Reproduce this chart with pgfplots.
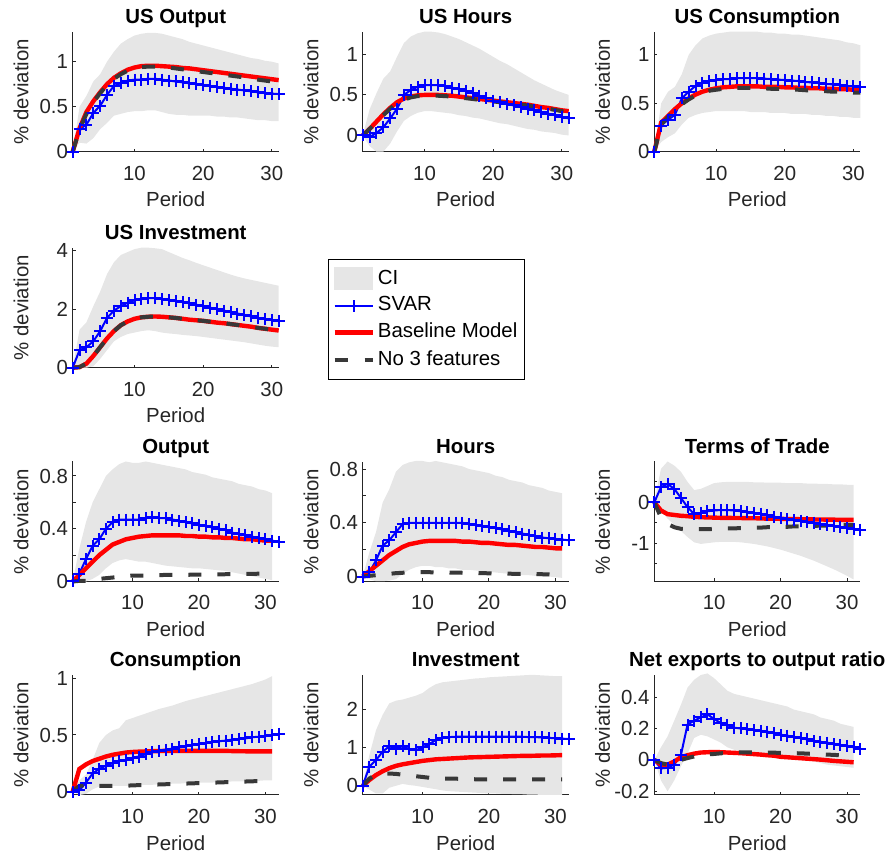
\documentclass[border=0pt]{standalone}
\usepackage{fontspec}
\setmainfont{Liberation Sans}
\usepackage{pgfplots}
\pgfplotsset{compat=1.18}
\usepackage{pgfplotstable}
\usepgfplotslibrary{fillbetween}
\definecolor{cigray}{RGB}{230,230,230}
\definecolor{axgray}{RGB}{38,38,38}
\definecolor{nogray}{RGB}{56,56,56}
\newcommand{\figfont}{\fontsize{10.2}{12}\selectfont}

% US Output
\pgfplotstableread{
x ciL ciU svar base no3
1 0 0 0 0 0
2 0.10 0.50 0.25 0.26 0.25
3 0.09 0.62 0.30 0.44 0.42
4 0.15 0.78 0.43 0.56 0.55
5 0.25 0.86 0.51 0.66 0.65
6 0.32 1.00 0.63 0.75 0.74
7 0.40 1.11 0.73 0.82 0.81
8 0.42 1.20 0.76 0.87 0.86
9 0.44 1.25 0.79 0.91 0.90
10 0.45 1.29 0.80 0.935 0.925
11 0.45 1.31 0.80 0.95 0.94
12 0.46 1.32 0.81 0.955 0.945
13 0.46 1.32 0.81 0.955 0.945
14 0.44 1.31 0.80 0.95 0.94
15 0.42 1.29 0.79 0.945 0.935
16 0.41 1.27 0.78 0.94 0.925
17 0.41 1.25 0.77 0.93 0.915
18 0.40 1.22 0.76 0.925 0.905
19 0.40 1.20 0.75 0.915 0.895
20 0.40 1.18 0.74 0.905 0.885
21 0.40 1.16 0.73 0.895 0.875
22 0.39 1.14 0.72 0.885 0.865
23 0.39 1.12 0.71 0.875 0.855
24 0.38 1.10 0.70 0.865 0.845
25 0.38 1.08 0.69 0.855 0.835
26 0.37 1.06 0.68 0.845 0.825
27 0.36 1.04 0.67 0.835 0.815
28 0.35 1.03 0.66 0.825 0.80
29 0.35 1.01 0.65 0.815 0.79
30 0.34 1.00 0.645 0.805 0.78
31 0.34 0.98 0.64 0.795 0.77
}\TA

% US Hours
\pgfplotstableread{
x ciL ciU svar base no3
1 0 0 0 0 0
2 -0.13 0.32 -0.02 0.08 0.08
3 -0.20 0.52 0.03 0.17 0.16
4 -0.20 0.70 0.10 0.26 0.25
5 -0.10 0.79 0.21 0.34 0.33
6 0.05 0.97 0.33 0.41 0.40
7 0.18 1.14 0.50 0.455 0.44
8 0.24 1.22 0.56 0.48 0.47
9 0.28 1.26 0.60 0.495 0.485
10 0.30 1.28 0.62 0.50 0.49
11 0.30 1.28 0.62 0.50 0.49
12 0.29 1.27 0.62 0.50 0.49
13 0.28 1.25 0.61 0.495 0.485
14 0.27 1.22 0.59 0.49 0.48
15 0.25 1.19 0.57 0.48 0.47
16 0.24 1.15 0.55 0.47 0.46
17 0.22 1.11 0.52 0.46 0.45
18 0.21 1.07 0.49 0.45 0.44
19 0.19 1.02 0.46 0.44 0.43
20 0.17 0.97 0.43 0.43 0.42
21 0.15 0.92 0.41 0.42 0.41
22 0.14 0.88 0.39 0.41 0.40
23 0.12 0.83 0.37 0.40 0.39
24 0.10 0.78 0.35 0.39 0.38
25 0.08 0.73 0.33 0.38 0.37
26 0.07 0.68 0.31 0.365 0.355
27 0.05 0.64 0.29 0.35 0.34
28 0.04 0.60 0.27 0.34 0.33
29 0.03 0.56 0.25 0.325 0.315
30 0.01 0.53 0.23 0.31 0.30
31 0.00 0.50 0.21 0.30 0.29
}\TB

% US Consumption
\pgfplotstableread{
x ciL ciU svar base no3
1 0 0 0 0 0
2 0.10 0.50 0.27 0.30 0.28
3 0.15 0.62 0.33 0.37 0.36
4 0.19 0.67 0.38 0.44 0.43
5 0.28 0.80 0.55 0.50 0.49
6 0.35 1.00 0.62 0.55 0.54
7 0.38 1.10 0.68 0.59 0.58
8 0.40 1.17 0.71 0.62 0.61
9 0.41 1.20 0.73 0.64 0.63
10 0.42 1.22 0.74 0.655 0.64
11 0.42 1.23 0.75 0.665 0.65
12 0.42 1.24 0.75 0.67 0.655
13 0.42 1.24 0.76 0.675 0.66
14 0.42 1.24 0.76 0.675 0.66
15 0.41 1.24 0.76 0.675 0.66
16 0.41 1.24 0.76 0.675 0.655
17 0.41 1.23 0.755 0.67 0.655
18 0.40 1.23 0.75 0.67 0.65
19 0.40 1.22 0.745 0.67 0.65
20 0.40 1.22 0.74 0.665 0.645
21 0.39 1.21 0.735 0.665 0.64
22 0.39 1.21 0.73 0.66 0.64
23 0.39 1.20 0.72 0.66 0.635
24 0.38 1.19 0.715 0.655 0.63
25 0.38 1.18 0.71 0.655 0.63
26 0.37 1.17 0.70 0.65 0.625
27 0.37 1.16 0.695 0.65 0.62
28 0.36 1.15 0.69 0.645 0.62
29 0.36 1.13 0.68 0.645 0.615
30 0.35 1.12 0.675 0.64 0.61
31 0.35 1.10 0.67 0.64 0.61
}\TC

% US Investment
\pgfplotstableread{
x ciL ciU svar base no3
1 0 0 0 0 0
2 0.00 1.30 0.60 0.02 0.02
3 0.00 1.55 0.70 0.14 0.14
4 0.05 2.10 0.90 0.40 0.40
5 0.30 2.60 1.25 0.70 0.70
6 0.60 3.20 1.70 1.00 1.00
7 0.90 3.60 1.95 1.25 1.25
8 1.05 3.85 2.10 1.45 1.45
9 1.15 3.95 2.22 1.58 1.58
10 1.20 4.05 2.30 1.67 1.67
11 1.25 4.10 2.35 1.72 1.72
12 1.28 4.10 2.38 1.74 1.74
13 1.25 4.08 2.38 1.75 1.75
14 1.20 4.05 2.35 1.74 1.74
15 1.17 3.95 2.32 1.72 1.72
16 1.15 3.85 2.28 1.70 1.70
17 1.12 3.75 2.25 1.67 1.67
18 1.10 3.67 2.20 1.64 1.64
19 1.08 3.58 2.15 1.62 1.62
20 1.05 3.50 2.10 1.60 1.60
21 1.02 3.42 2.05 1.57 1.57
22 0.99 3.34 2.00 1.54 1.54
23 0.96 3.26 1.95 1.52 1.52
24 0.93 3.18 1.90 1.49 1.49
25 0.90 3.11 1.85 1.46 1.46
26 0.87 3.05 1.80 1.43 1.43
27 0.83 3.00 1.75 1.40 1.40
28 0.79 2.95 1.70 1.36 1.36
29 0.75 2.90 1.66 1.33 1.33
30 0.72 2.85 1.63 1.30 1.30
31 0.70 2.80 1.60 1.27 1.27
}\TD

% Output
\pgfplotstableread{
x ciL ciU svar base no3
1 0 0 0 0 0
2 -0.01 0.25 0.06 0.05 0.005
3 0.00 0.45 0.17 0.10 0.005
4 0.02 0.60 0.27 0.15 0.01
5 0.05 0.70 0.32 0.20 0.02
6 0.10 0.80 0.40 0.24 0.025
7 0.14 0.85 0.45 0.28 0.03
8 0.16 0.89 0.47 0.30 0.035
9 0.17 0.91 0.47 0.32 0.04
10 0.16 0.90 0.47 0.33 0.045
11 0.15 0.90 0.47 0.34 0.045
12 0.15 0.91 0.48 0.345 0.045
13 0.14 0.90 0.49 0.35 0.048
14 0.13 0.89 0.48 0.35 0.048
15 0.12 0.88 0.48 0.35 0.05
16 0.115 0.87 0.47 0.35 0.05
17 0.11 0.86 0.46 0.35 0.05
18 0.105 0.85 0.45 0.345 0.05
19 0.10 0.83 0.44 0.345 0.052
20 0.10 0.82 0.43 0.34 0.052
21 0.095 0.81 0.42 0.34 0.052
22 0.09 0.79 0.41 0.335 0.053
23 0.085 0.78 0.40 0.335 0.054
24 0.08 0.77 0.39 0.33 0.055
25 0.07 0.76 0.37 0.33 0.055
26 0.06 0.74 0.36 0.325 0.056
27 0.05 0.73 0.35 0.32 0.057
28 0.04 0.72 0.34 0.32 0.058
29 0.03 0.70 0.33 0.315 0.059
30 0.02 0.69 0.32 0.31 0.06
31 0.01 0.67 0.31 0.31 0.06
32 nan nan 0.30 nan nan
}\TE

% Hours
\pgfplotstableread{
x ciL ciU svar base no3
1 0 0 0 0 0
2 -0.02 0.18 0.03 0.04 0.005
3 -0.035 0.33 0.12 0.08 0.01
4 -0.035 0.55 0.23 0.12 0.015
5 -0.03 0.65 0.27 0.16 0.02
6 -0.02 0.78 0.33 0.19 0.025
7 0.02 0.83 0.39 0.22 0.028
8 0.05 0.85 0.40 0.24 0.03
9 0.07 0.86 0.40 0.25 0.032
10 0.08 0.86 0.40 0.26 0.032
11 0.08 0.85 0.40 0.265 0.032
12 0.07 0.86 0.40 0.265 0.031
13 0.07 0.85 0.40 0.265 0.03
14 0.06 0.84 0.40 0.265 0.03
15 0.06 0.83 0.40 0.265 0.029
16 0.05 0.82 0.40 0.26 0.028
17 0.05 0.80 0.39 0.26 0.027
18 0.045 0.79 0.385 0.255 0.026
19 0.04 0.78 0.375 0.25 0.025
20 0.035 0.77 0.37 0.25 0.024
21 0.03 0.75 0.36 0.245 0.023
22 0.025 0.74 0.35 0.24 0.022
23 0.02 0.72 0.34 0.235 0.021
24 0.015 0.71 0.33 0.235 0.02
25 0.01 0.70 0.32 0.23 0.02
26 0.01 0.68 0.31 0.225 0.019
27 0.005 0.67 0.30 0.22 0.018
28 0.00 0.66 0.29 0.22 0.017
29 0.00 0.64 0.285 0.215 0.016
30 -0.005 0.63 0.28 0.21 0.015
31 -0.01 0.62 0.275 0.21 0.015
32 nan nan 0.27 nan nan
}\TF

% Terms of Trade
\pgfplotstableread{
x ciL ciU svar base no3
1 0 0 0 0 0
2 -0.20 0.82 0.37 -0.20 -0.37
3 -0.40 1.00 0.45 -0.29 -0.53
4 -0.55 0.90 0.33 -0.31 -0.61
5 -0.70 0.75 0.11 -0.33 -0.65
6 -0.85 0.50 -0.12 -0.34 -0.66
7 -0.98 0.30 -0.29 -0.355 -0.66
8 -1.02 0.33 -0.26 -0.365 -0.66
9 -1.00 0.40 -0.22 -0.37 -0.66
10 -0.98 0.47 -0.20 -0.375 -0.65
11 -0.97 0.49 -0.19 -0.38 -0.65
12 -0.97 0.50 -0.19 -0.38 -0.64
13 -0.97 0.50 -0.20 -0.385 -0.64
14 -0.98 0.50 -0.22 -0.385 -0.63
15 -1.00 0.50 -0.24 -0.39 -0.63
16 -1.02 0.49 -0.26 -0.39 -0.62
17 -1.05 0.49 -0.28 -0.395 -0.62
18 -1.08 0.48 -0.31 -0.40 -0.61
19 -1.12 0.48 -0.35 -0.40 -0.61
20 -1.16 0.48 -0.39 -0.405 -0.60
21 -1.21 0.47 -0.41 -0.41 -0.60
22 -1.26 0.47 -0.43 -0.41 -0.59
23 -1.31 0.47 -0.45 -0.415 -0.59
24 -1.37 0.46 -0.48 -0.415 -0.58
25 -1.43 0.46 -0.50 -0.42 -0.58
26 -1.50 0.45 -0.53 -0.42 -0.57
27 -1.57 0.45 -0.56 -0.425 -0.57
28 -1.64 0.44 -0.58 -0.425 -0.56
29 -1.72 0.44 -0.61 -0.43 -0.56
30 -1.80 0.43 -0.63 -0.43 -0.55
31 -1.89 0.43 -0.65 -0.43 -0.55
32 nan nan -0.67 nan nan
}\TG

% Consumption
\pgfplotstableread{
x ciL ciU svar base no3
1 0 0 0 0 0
2 -0.03 0.10 0.01 0.20 0.05
3 -0.02 0.15 0.08 0.24 0.06
4 0.02 0.28 0.16 0.27 0.05
5 0.045 0.43 0.20 0.29 0.05
6 0.05 0.50 0.23 0.31 0.05
7 0.05 0.54 0.25 0.325 0.05
8 0.05 0.56 0.27 0.335 0.05
9 0.05 0.63 0.28 0.345 0.052
10 0.055 0.65 0.30 0.35 0.055
11 0.055 0.67 0.31 0.353 0.057
12 0.06 0.69 0.33 0.355 0.059
13 0.06 0.71 0.35 0.357 0.061
14 0.065 0.73 0.36 0.358 0.063
15 0.065 0.745 0.37 0.36 0.065
16 0.07 0.76 0.38 0.36 0.067
17 0.07 0.78 0.39 0.36 0.069
18 0.075 0.80 0.40 0.36 0.071
19 0.075 0.815 0.41 0.36 0.073
20 0.08 0.83 0.42 0.36 0.075
21 0.08 0.845 0.43 0.36 0.077
22 0.08 0.86 0.44 0.36 0.079
23 0.085 0.875 0.445 0.36 0.081
24 0.085 0.89 0.45 0.36 0.083
25 0.09 0.905 0.46 0.358 0.085
26 0.09 0.92 0.465 0.357 0.087
27 0.09 0.935 0.47 0.356 0.089
28 0.095 0.95 0.48 0.355 0.091
29 0.095 0.97 0.485 0.355 0.093
30 0.10 0.99 0.49 0.355 0.095
31 0.10 1.02 0.50 0.355 0.097
32 nan nan 0.51 nan nan
}\TH

% Investment
\pgfplotstableread{
x ciL ciU svar base no3
1 0 0 0 0 0
2 -0.10 0.80 0.50 0.15 0.19
3 -0.20 1.45 0.67 0.28 0.29
4 -0.20 1.85 0.89 0.38 0.32
5 -0.05 2.15 1.03 0.46 0.32
6 0.00 2.22 0.97 0.52 0.31
7 0.05 2.25 1.03 0.56 0.29
8 0.02 2.30 0.96 0.59 0.27
9 0.00 2.35 0.93 0.62 0.25
10 -0.03 2.42 1.00 0.65 0.23
11 -0.06 2.55 1.09 0.67 0.21
12 -0.09 2.65 1.19 0.69 0.20
13 -0.12 2.70 1.25 0.70 0.19
14 -0.14 2.72 1.27 0.71 0.19
15 -0.15 2.74 1.28 0.72 0.185
16 -0.16 2.76 1.28 0.73 0.18
17 -0.17 2.78 1.28 0.74 0.175
18 -0.18 2.80 1.28 0.745 0.17
19 -0.19 2.81 1.28 0.75 0.17
20 -0.20 2.83 1.28 0.755 0.17
21 -0.20 2.84 1.28 0.76 0.17
22 -0.21 2.85 1.28 0.765 0.17
23 -0.21 2.86 1.28 0.77 0.17
24 -0.22 2.87 1.28 0.775 0.17
25 -0.22 2.88 1.28 0.78 0.17
26 -0.23 2.89 1.27 0.78 0.17
27 -0.23 2.89 1.27 0.785 0.17
28 -0.24 2.88 1.26 0.79 0.17
29 -0.24 2.87 1.25 0.79 0.17
30 -0.24 2.86 1.24 0.795 0.17
31 -0.24 2.86 1.23 0.80 0.17
32 nan nan 1.22 nan nan
}\TI

% Net exports to output ratio
\pgfplotstableread{
x ciL ciU svar base no3
1 0 0 0 0 0
2 -0.13 0.08 -0.054 -0.03 -0.02
3 -0.20 0.15 -0.05 -0.03 -0.03
4 -0.13 0.25 -0.03 -0.01 -0.02
5 -0.04 0.35 0.03 0.017 0.0
6 0.04 0.46 0.225 0.03 0.012
7 0.14 0.51 0.25 0.04 0.022
8 0.16 0.54 0.27 0.047 0.03
9 0.15 0.55 0.29 0.049 0.035
10 0.13 0.52 0.26 0.05 0.038
11 0.11 0.48 0.235 0.049 0.042
12 0.08 0.44 0.22 0.047 0.045
13 0.065 0.42 0.205 0.045 0.047
14 0.055 0.41 0.20 0.043 0.048
15 0.045 0.40 0.195 0.04 0.048
16 0.035 0.39 0.19 0.037 0.048
17 0.03 0.38 0.185 0.034 0.047
18 0.025 0.37 0.18 0.03 0.047
19 0.02 0.36 0.17 0.027 0.046
20 0.015 0.35 0.16 0.02 0.045
21 0.01 0.34 0.155 0.017 0.044
22 0.005 0.32 0.145 0.014 0.043
23 0.0 0.31 0.14 0.011 0.042
24 -0.005 0.30 0.13 0.008 0.04
25 -0.01 0.29 0.12 0.005 0.038
26 -0.02 0.27 0.115 0.002 0.036
27 -0.03 0.26 0.11 -0.002 0.034
28 -0.035 0.25 0.10 -0.006 0.032
29 -0.04 0.23 0.095 -0.009 0.03
30 -0.045 0.22 0.09 -0.012 0.028
31 -0.05 0.21 0.08 -0.015 0.027
32 nan nan 0.07 nan nan
}\TJ

\pgfplotsset{
  panel/.style={
    scale only axis, width=103pt, height=60pt, anchor=south west,
    axis x line*=bottom, axis y line*=left,
    axis line style={draw=axgray, line width=0.5pt},
    every tick/.style={draw=axgray, line width=0.5pt},
    tick align=inside, major tick length=1.5pt,
    xmin=1, xtick={10,20,30}, xticklabels={10,20,30},
    tick label style={font=\figfont, text=axgray},
    xticklabel style={anchor=base, inner sep=0pt, yshift=-14.2pt},
    yticklabel style={anchor=east, inner sep=0pt, xshift=-2.2pt},
    xlabel={Period}, ylabel={\% deviation},
    label style={font=\figfont, text=axgray},
    xlabel style={at={(axis description cs:0.5,0)}, anchor=base, yshift=-27.5pt},
    ylabel style={at={(axis description cs:0,0.5)}, anchor=base, yshift=22.2pt},
    every axis title shift=0pt,
    title style={font=\figfont\bfseries, text=black, at={(axis description cs:0.5,1)}, anchor=base, yshift=4.2pt},
    clip=false,
  },
  svarst/.style={blue, line width=1pt, mark=+, mark size=3pt, mark options={line width=1pt, solid}},
  basest/.style={red, line width=2.2pt},
  nost/.style={nogray, line width=2pt, dash pattern=on 6.5pt off 8pt},
}

\newcommand{\drawpanel}[1]{%
  \addplot[forget plot, name path=U, draw=none, restrict x to domain=1:31] table[x=x,y=ciU]{#1};
  \addplot[forget plot, name path=L, draw=none, restrict x to domain=1:31] table[x=x,y=ciL]{#1};
  \addplot[forget plot, fill=cigray, draw=none] fill between[of=U and L];
  \addplot[forget plot, svarst] table[x=x,y=svar]{#1};
  \addplot[forget plot, basest, restrict x to domain=1:31] table[x=x,y=base]{#1};
  \addplot[forget plot, nost, restrict x to domain=1:31] table[x=x,y=no3]{#1};
}

\begin{document}
\begin{tikzpicture}

% Row 1
\begin{axis}[panel, at={(36.35pt,354.15pt)}, xmax=31, ymin=0, ymax=1.333,
  ytick={0,0.5,1}, yticklabels={0,0.5,1}, title={US Output}]
\drawpanel{\TA}
\end{axis}
\begin{axis}[panel, at={(181.35pt,354.15pt)}, xmax=31, ymin=-0.2, ymax=1.28,
  ytick={0,0.5,1}, yticklabels={0,0.5,1}, title={US Hours}]
\drawpanel{\TB}
\end{axis}
\begin{axis}[panel, at={(327.15pt,354.15pt)}, xmax=31, ymin=0, ymax=1.24,
  ytick={0,0.5,1}, yticklabels={0,0.5,1}, title={US Consumption}]
\drawpanel{\TC}
\end{axis}

% Row 2 (with legend)
\begin{axis}[panel, at={(36.35pt,246.15pt)}, xmax=31, ymin=0, ymax=4.1,
  ytick={0,2,4}, yticklabels={0,2,4}, title={US Investment},
  legend style={at={(axis description cs:1.2393,0.9033)}, anchor=north west,
    draw=black, line width=0.5pt, fill=white,
    font=\figfont, inner xsep=2pt, inner ysep=3.5pt, row sep=1.2pt,
    nodes={inner sep=1.5pt, text depth=0.2em}},
  legend cell align=left]
\drawpanel{\TD}
\addlegendimage{legend image code/.code={\fill[cigray] (0pt,-5.5pt) rectangle (19pt,5.5pt);}}
\addlegendentry{CI}
\addlegendimage{legend image code/.code={\draw[blue, line width=1pt] (0pt,0pt) -- (19pt,0pt); \draw[blue, line width=1pt] (9.5pt,-3pt) -- (9.5pt,3pt);}}
\addlegendentry{SVAR}
\addlegendimage{legend image code/.code={\draw[red, line width=2.2pt] (0pt,0pt) -- (19pt,0pt);}}
\addlegendentry{Baseline Model}
\addlegendimage{legend image code/.code={\draw[nogray, line width=2pt, dash pattern=on 6.5pt off 8.5pt] (0pt,0pt) -- (19pt,0pt);}}
\addlegendentry{No 3 features}
\end{axis}

% Row 3
\begin{axis}[panel, at={(36.35pt,139.25pt)}, xmax=32, ymin=0, ymax=0.91,
  ytick={0,0.2,0.4,0.6,0.8}, yticklabels={0,,0.4,,0.8}, title={Output}]
\drawpanel{\TE}
\end{axis}
\begin{axis}[panel, at={(181.35pt,139.25pt)}, xmax=32, ymin=-0.037, ymax=0.856,
  ytick={0,0.2,0.4,0.6,0.8}, yticklabels={0,,0.4,,0.8}, title={Hours}]
\drawpanel{\TF}
\end{axis}
\begin{axis}[panel, at={(327.15pt,139.25pt)}, xmax=32, ymin=-1.94, ymax=1.0,
  ytick={-1.5,-1,-0.5,0,0.5}, yticklabels={,-1,,0,}, title={Terms of Trade}]
\drawpanel{\TG}
\end{axis}

% Row 4
\begin{axis}[panel, at={(36.35pt,32.5pt)}, xmax=32, ymin=-0.03, ymax=1.03,
  ytick={0,0.5,1}, yticklabels={0,0.5,1}, title={Consumption}]
\drawpanel{\TH}
\end{axis}
\begin{axis}[panel, at={(181.35pt,32.5pt)}, xmax=32, ymin=-0.24, ymax=2.89,
  ytick={0,1,2}, yticklabels={0,1,2}, title={Investment}]
\drawpanel{\TI}
\end{axis}
\begin{axis}[panel, at={(327.15pt,32.5pt)}, xmax=32, ymin=-0.223, ymax=0.54,
  ytick={-0.2,0,0.2,0.4}, yticklabels={-0.2,0,0.2,0.4}, title={Net exports to output ratio}]
\drawpanel{\TJ}
\end{axis}

\pgfresetboundingbox
\useasboundingbox (0,0) rectangle (446pt,430pt);
\end{tikzpicture}
\end{document}
